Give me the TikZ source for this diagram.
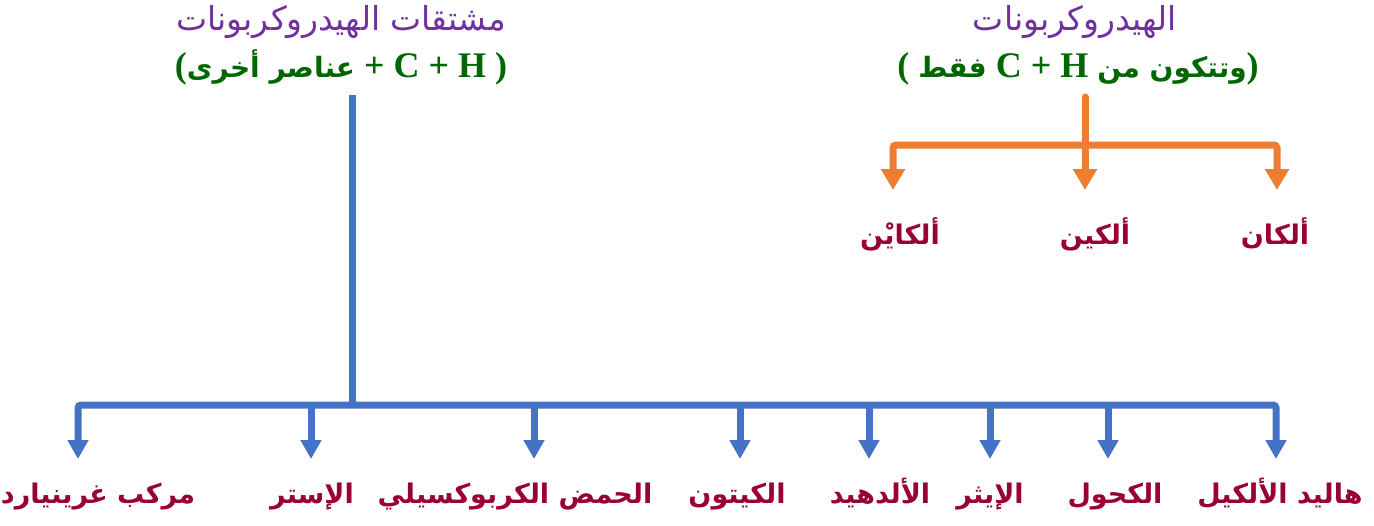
\documentclass[tikz,border=0pt]{standalone}
\usepackage{fontspec}
\setmainfont{Liberation Serif}
\newfontfamily\arabicfont[Script=Arabic]{DejaVu Sans}
\TeXXeTstate=1
\usetikzlibrary{arrows.meta}

\definecolor{titlepurple}{HTML}{7030A0}
\definecolor{subgreen}{HTML}{006600}
\definecolor{labelred}{HTML}{990033}
\definecolor{branchblue}{HTML}{4472C4}
\definecolor{branchorange}{HTML}{ED7D31}

% Arabic words inside a left-to-right line
\newcommand{\artext}[1]{{\arabicfont\bfseries\fontsize{28}{32}\selectfont\beginR #1\endR}}

\tikzset{
    title/.style={anchor=base, inner sep=0pt, text=titlepurple,
        font=\arabicfont\fontsize{33}{38}\selectfont},
    subtitle/.style={anchor=base, inner sep=0pt, text=subgreen,
        font=\bfseries\fontsize{36}{40}\selectfont},
    lbl/.style={anchor=north, inner sep=0pt, text=labelred,
        font=\arabicfont\bfseries\fontsize{27}{30}\selectfont},
    bline/.style={draw=branchblue, line width=7pt},
    barrow/.style={bline, -{Triangle[width=20pt,length=19pt]}},
    oline/.style={draw=branchorange, line width=7pt},
    oarrow/.style={oline, -{Triangle[width=23pt,length=21pt]}}
}

\begin{document}
\begin{tikzpicture}[x=1pt, y=-1pt]

        \useasboundingbox (0,0) rectangle (1374,525);

        % Titles
        \node[title] (derivTitle) at (341,30) {\beginR مشتقات الهيدروكربونات\endR};
        \node[subtitle] (derivSub) at (341,77) {(\artext{عناصر أخرى} + C + H )};

        \node[title] (hcTitle) at (1075,30) {\beginR الهيدروكربونات\endR};
        \node[subtitle] (hcSub) at (1078,77) {( \artext{فقط} C + H \artext{وتتكون من})};

        % Hydrocarbons branch
        \coordinate (otop) at (1085,97);
        \coordinate (obar) at (1085,145);
        \coordinate (tAlkyne) at (893,190);
        \coordinate (tAlkene) at (1085,190);
        \coordinate (tAlkane) at (1277,190);

        \draw[oline, rounded corners=3pt, {Triangle[width=23pt,length=21pt]}-{Triangle[width=23pt,length=21pt]}]
            (tAlkyne) |- (obar) -| (tAlkane);
        \draw[oarrow, line cap=round] (otop) -- (tAlkene);

        \node[lbl, text height=54pt] (alkyne) at (900,190) {\beginR ألكايْن\endR};
        \node[lbl, text height=54pt] (alkene) at (1095,190) {\beginR ألكين\endR};
        \node[lbl, text height=54pt] (alkane) at (1275,190) {\beginR ألكان\endR};

        % Derivatives branch
        \coordinate (dtop) at (352,95);
        \coordinate (dbar) at (352,405);
        \foreach \name/\x in {tA/78, tB/311, tC/534, tD/740, tE/869, tF/990, tG/1108, tH/1276}
            \coordinate (\name) at (\x,459);

        \draw[bline] (dtop) -- (dbar);
        \draw[bline, rounded corners=3pt, {Triangle[width=20pt,length=19pt]}-{Triangle[width=20pt,length=19pt]}]
            (tA) |- (dbar) -| (tH);
        \foreach \t in {tB, tC, tD, tE, tF, tG}
            \draw[barrow] (\t |- dbar) -- (\t);

        % Labels
        \foreach \name/\x/\txt in {grignard/98/مركب غرينيارد, ester/312/الإستر,
                carboxylic/515/الحمض الكربوكسيلي, ketone/737/الكيتون,
                aldehyde/880/الألدهيد, ether/990/الإيثر,
                alcohol/1115/الكحول, alkylhalide/1280/هاليد الألكيل}
            \node[lbl, text height=44pt] (\name) at (\x,459) {\beginR\txt\endR};

\end{tikzpicture}
\end{document}
